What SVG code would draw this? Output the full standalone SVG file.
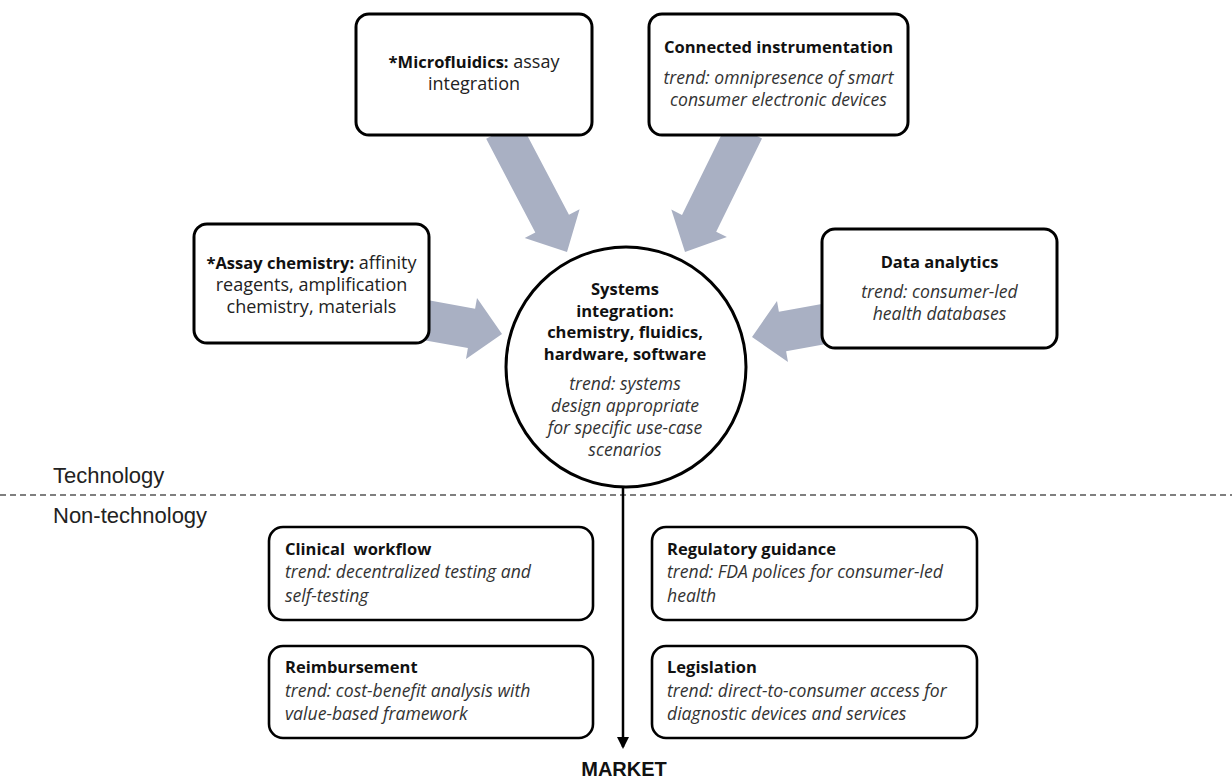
<svg xmlns="http://www.w3.org/2000/svg" width="1232" height="781" viewBox="0 0 1232 781">
<defs>
<style>
.box{fill:#fff;stroke:#000;stroke-width:3}
.bx2{fill:#fff;stroke:#000;stroke-width:2.6}
.arr{fill:#a9b0c3}
.b{font-family:"Open Sans","Liberation Sans",sans-serif;font-weight:bold;font-size:16.5px;fill:#111}
.r{font-family:"Open Sans","Liberation Sans",sans-serif;font-size:18px;fill:#222}
.i{font-family:"Open Sans","Liberation Sans",sans-serif;font-style:italic;font-size:17.6px;fill:#333}
.c{text-anchor:middle}
.lab{font-family:"Liberation Sans",Arial,sans-serif;font-size:22px;fill:#222}
.pre{white-space:pre}
</style>
<marker id="ah" viewBox="0 0 12 12" refX="10" refY="6" markerWidth="12" markerHeight="12" markerUnits="userSpaceOnUse" orient="auto">
<path d="M0,0 L12,6 L0,12 z" fill="#000"/>
</marker>
</defs>
<rect width="1232" height="781" fill="#fff"/>

<line x1="0" y1="495" x2="1232" y2="495" stroke="#555" stroke-width="1.5" stroke-dasharray="6,4"/>
<text class="lab" x="53" y="483">Technology</text>
<text class="lab" x="53" y="523">Non-technology</text>

<g id="connectors">
<polygon class="arr" points="519.8,121.2 568.96,214.85 579.6,209.3 567,252 524.7,238.1 535.3,232.5 486.2,138.8"/>
<polygon class="arr" points="762.0,138.4 716.2,231.7 726.9,237.0 685,252 671.3,209.6 682.0,214.9 728.0,121.6"/>
<polygon class="arr" points="428.6,300.3 475.1,308.8 477.0,297.9 502,334 466.0,358.95 467.9,348.1 421.4,339.7"/>
<polygon class="arr" points="838.6,341.7 786.1,351.2 788.0,362.0 752,337 777.0,301.0 778.9,311.8 831.4,302.3"/>
<line x1="623" y1="487" x2="623" y2="747" stroke="#000" stroke-width="2.5" marker-end="url(#ah)"/>
</g>

<g id="microfluidics">
<rect class="box" x="356" y="14" width="236" height="121" rx="13"/>
<text class="c" x="474" y="68"><tspan class="b">*Microfluidics:</tspan><tspan class="r"> assay</tspan></text>
<text class="r c" x="474" y="90">integration</text>
</g>

<g id="connected">
<rect class="box" x="649" y="14" width="259" height="121" rx="13"/>
<text class="b c" x="778.5" y="53">Connected instrumentation</text>
<text class="i c" x="778.5" y="84">trend: omnipresence of smart</text>
<text class="i c" x="778.5" y="106">consumer electronic devices</text>
</g>

<g id="assay">
<rect class="box" x="194" y="224" width="235" height="119" rx="13"/>
<text class="c" x="311.5" y="269"><tspan class="b">*Assay chemistry:</tspan><tspan class="r"> affinity</tspan></text>
<text class="r c" x="311.5" y="291">reagents, amplification</text>
<text class="r c" x="311.5" y="313">chemistry, materials</text>
</g>

<g id="data">
<rect class="box" x="822" y="229" width="235" height="119" rx="13"/>
<text class="b c" x="939.5" y="268">Data analytics</text>
<text class="i c" x="939.5" y="298">trend: consumer-led</text>
<text class="i c" x="939.5" y="320">health databases</text>
</g>

<g id="systems">
<circle class="box" cx="626" cy="367" r="120"/>
<text class="b c" x="625" y="295">Systems</text>
<text class="b c" x="625" y="317">integration:</text>
<text class="b c" x="625" y="338">chemistry, fluidics,</text>
<text class="b c" x="625" y="360">hardware, software</text>
<text class="i c" x="625" y="390">trend: systems</text>
<text class="i c" x="625" y="412">design appropriate</text>
<text class="i c" x="625" y="434">for specific use-case</text>
<text class="i c" x="625" y="456">scenarios</text>
</g>

<g id="clinical">
<rect class="bx2" x="269" y="527" width="324" height="93" rx="14"/>
<text class="b pre" x="285" y="555">Clinical  workflow</text>
<text class="i" x="285" y="578">trend: decentralized testing and</text>
<text class="i" x="285" y="602">self-testing</text>
</g>

<g id="reimbursement">
<rect class="bx2" x="269" y="646" width="324" height="92" rx="14"/>
<text class="b" x="285" y="673">Reimbursement</text>
<text class="i" x="285" y="697">trend: cost-benefit analysis with</text>
<text class="i" x="285" y="720">value-based framework</text>
</g>

<g id="regulatory">
<rect class="bx2" x="652" y="527" width="325" height="93" rx="14"/>
<text class="b" x="667" y="555">Regulatory guidance</text>
<text class="i" x="667" y="578">trend: FDA polices for consumer-led</text>
<text class="i" x="667" y="602">health</text>
</g>

<g id="legislation">
<rect class="bx2" x="652" y="646" width="325" height="92" rx="14"/>
<text class="b" x="667" y="673">Legislation</text>
<text class="i" x="667" y="697">trend: direct-to-consumer access for</text>
<text class="i" x="667" y="720">diagnostic devices and services</text>
</g>

<g id="market">
<text x="624" y="776" text-anchor="middle" font-family="Liberation Sans,Arial,sans-serif" font-weight="bold" font-size="20" fill="#111">MARKET</text>
</g>
</svg>
